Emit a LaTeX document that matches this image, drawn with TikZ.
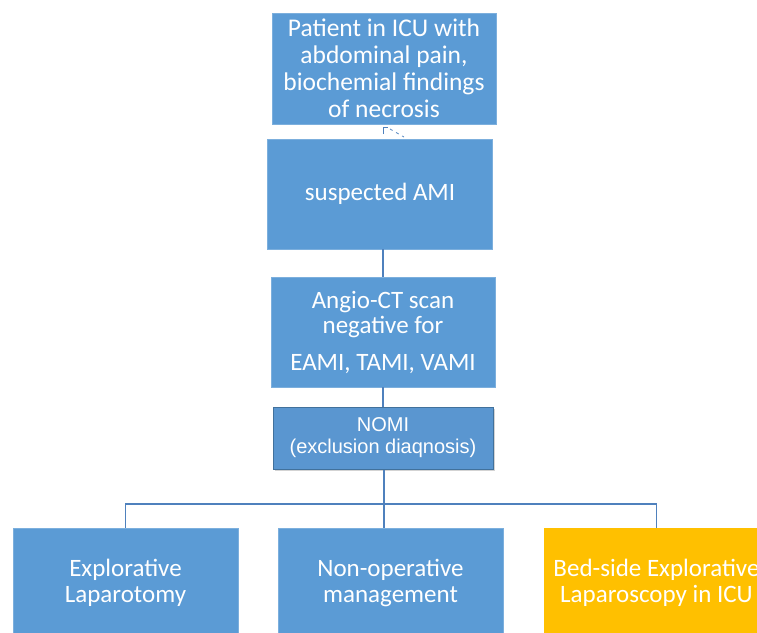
\documentclass[tikz,border=0pt]{standalone}
\usepackage{fontspec}
\setmainfont{Carlito}
\newfontfamily\nomifont{Liberation Sans}
\usetikzlibrary{shadows}
\definecolor{boxblue}{HTML}{5B9BD5}
\definecolor{nomiblue}{HTML}{5A96D0}
\definecolor{edgeblue}{HTML}{41719C}
\definecolor{lineblue}{HTML}{4F81BD}
\definecolor{boxorange}{HTML}{FFC000}
\tikzset{
	stage/.style={fill=boxblue, draw=boxblue!80!white, line width=0.6pt, text=white, align=center,
		minimum width=225pt, minimum height=110pt, inner sep=2pt, font=\fontsize{25}{26}\selectfont},
	conn/.style={draw=lineblue, line width=1.6pt}
}

\begin{document}
\begin{tikzpicture}[x=1pt,y=-1pt]
		\useasboundingbox (0,0) rectangle (757,632);
		\clip (0,0) rectangle (757,632);
		\def\bus{504};
		\node[stage, minimum width=224pt, minimum height=111pt, font=\fontsize{25.5}{27}\selectfont] (patient) at (384,68.5)
			{Patient in ICU with\\abdominal pain,\\biochemial findings\\of necrosis};
		\node[stage] (suspect) at (380,194) {suspected AMI};
		\node[stage, minimum width=224pt, font=\fontsize{25}{25}\selectfont] (angio) at (383,332)
			{Angio-CT scan\\negative for\\[12pt]EAMI, TAMI, VAMI};
		\node[stage, fill=nomiblue, draw=edgeblue, line width=1pt, minimum width=220pt, minimum height=62pt,
			font=\nomifont\fontsize{20}{22}\selectfont,
			drop shadow={opacity=0.35, shadow xshift=1.5pt, shadow yshift=-1.5pt}] (nomi) at (383,438)
			{NOMI\\(exclusion diaqnosis)};
		\node[stage] (laparotomy) at (125.5,583) {Explorative\\Laparotomy};
		\node[stage] (conserv) at (390.5,583) {Non-operative\\management};
		\node[stage, fill=boxorange, draw=boxorange] (laparoscopy) at (656.5,583) {Bed-side Explorative\\Laparoscopy in ICU};
		% broken link under the first box
		\coordinate (F1) at (383,127);
		\coordinate (F2) at (383,134);
		\coordinate (F3) at (388,127);
		\coordinate (F4) at (390,129);
		\coordinate (F5) at (404,137);
		\draw[conn, line width=1pt] (F2) -- (F1) -- (F3);
		\draw[conn, line width=0.8pt, dashed, dash pattern=on 3pt off 4pt] (F4) -- (F5);
		% connectors
		\draw[conn] (angio.north |- suspect.south) -- (angio.north);
		\draw[conn] (angio.south) -- (nomi.north);
		\coordinate (B) at (384,\bus);
		\draw[conn] (nomi.south -| B) -- (B |- conserv.north);
		\draw[conn] (B) -| (laparotomy.north);
		\draw[conn] (B) -| (laparoscopy.north);
	\end{tikzpicture}
\end{document}
